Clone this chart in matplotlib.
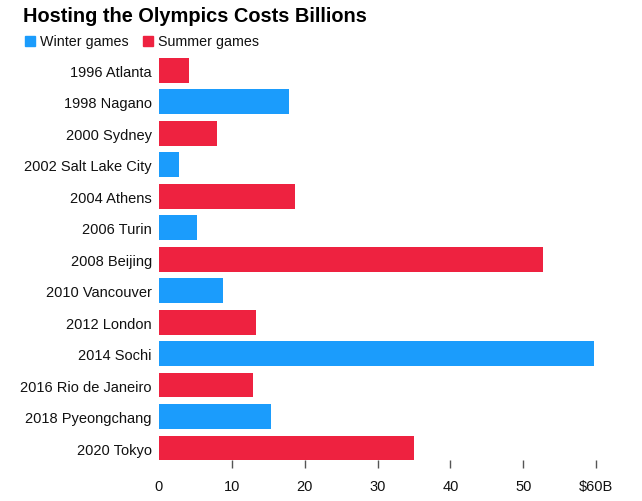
import matplotlib.pyplot as plt
from matplotlib.patches import Rectangle

plt.rcParams['font.family'] = ['Liberation Sans', 'DejaVu Sans']

games = ["1996 Atlanta", "1998 Nagano", "2000 Sydney", "2002 Salt Lake City",
         "2004 Athens", "2006 Turin", "2008 Beijing", "2010 Vancouver",
         "2012 London", "2014 Sochi", "2016 Rio de Janeiro", "2018 Pyeongchang",
         "2020 Tokyo"]
kind = ["Summer", "Winter", "Summer", "Winter", "Summer", "Winter", "Summer",
        "Winter", "Summer", "Winter", "Summer", "Winter", "Summer"]
cost = [4.1, 17.8, 8.0, 2.8, 18.7, 5.2, 52.7, 8.8, 13.3, 59.7, 12.9, 15.4, 35.0]

xticks = [0, 10, 20, 30, 40, 50, 60]
xlabels = ["0", "10", "20", "30", "40", "50", "$60B"]

blue = "#1b9cfc"
red = "#ee2240"
colors = {"Winter": blue, "Summer": red}

W, H = 642, 502
fig = plt.figure(figsize=(W / 100, H / 100), dpi=100)
ax = fig.add_axes([158.7 / W, 1 - 461 / H, (596.3 - 158.7) / W, (461 - 55.5) / H])

ypos = list(range(len(games)))
ax.barh(ypos, cost, height=0.79, color=[colors[k] for k in kind],
        edgecolor="none")

ax.set_xlim(0, 60)
ax.set_ylim(12 + (461 - 449) / 31.5, -0.5)
ax.set_yticks(ypos)
ax.set_yticklabels(games, fontsize=10.5, color="#111111")
ax.tick_params(axis="y", length=0, pad=5)
ax.set_xticks(xticks)
ax.set_xticklabels(xlabels, fontsize=10.5, color="#111111")
ax.tick_params(axis="x", length=6, width=1, color="#555555", pad=8)
ax.xaxis.get_major_ticks()[0].tick1line.set_visible(False)
for s in ax.spines.values():
    s.set_visible(False)

fig.text(23 / W, 1 - 17 / H, "Hosting the Olympics Costs Billions",
         fontsize=14.4, fontweight="bold", va="center", ha="left", color="#000000")

# legend
for x0, col, lab in [(25, blue, "Winter games"), (143, red, "Summer games")]:
    fig.add_artist(Rectangle((x0 / W, 1 - 47 / H), 10 / W, 10 / H,
                             transform=fig.transFigure, color=col))
    fig.text((x0 + 15) / W, 1 - 42 / H, lab, fontsize=10.3, va="center",
             ha="left", color="#111111")

fig.savefig("out.png", dpi=100)
